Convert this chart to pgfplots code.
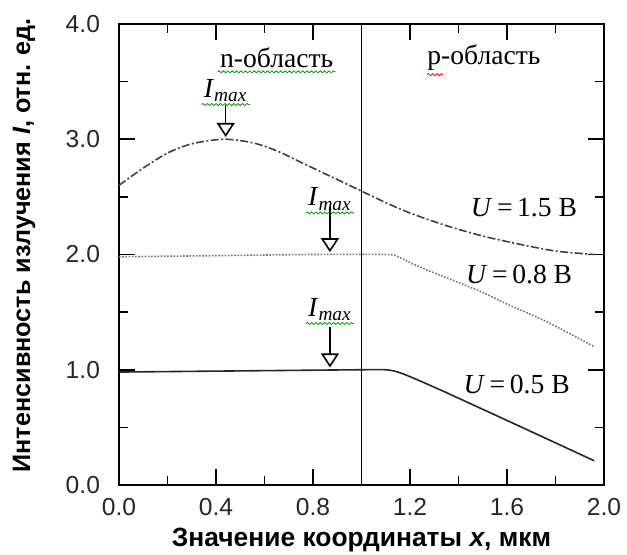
\documentclass[border=0pt]{standalone}
\usepackage{pgfplots}
\pgfplotsset{compat=1.18}
\usepackage{fontspec}
\setmainfont{Liberation Serif}
\setsansfont{Liberation Sans}
\usetikzlibrary{arrows.meta,decorations.pathmorphing}
\tikzset{wavy/.style={decorate, decoration={snake, amplitude=0.5pt, segment length=2.2pt}},
  imarrow/.style={black, line width=0.8pt, -{Triangle[open, width=9pt, length=7pt, line width=0.8pt]}},
  ann/.style={font=\fontsize{13.8}{15}\selectfont, inner sep=1pt}}
\begin{document}
\begin{tikzpicture}
\begin{axis}[
  scale only axis,
  width=242.5pt, height=230.5pt,
  xmin=0, xmax=2, ymin=0, ymax=4,
  xtick={0,0.4,0.8,1.2,1.6,2.0},
  ytick={0,1,2,3,4},
  minor x tick num=1, minor y tick num=1,
  tick align=inside,
  major tick length=8pt, minor tick length=4.5pt,
  axis line style={line width=0.8pt},
  every tick/.style={black, line width=0.8pt},
  /pgf/number format/.cd, fixed, fixed zerofill, precision=1, assume math mode=true,
  /pgfplots/.cd,
  ticklabel style={font=\sffamily\fontsize{12.3}{14}\selectfont, text=black!85},
  yticklabel style={xshift=-6pt},
  xticklabel style={yshift=-3pt},
  xlabel={\textbf{Значение координаты \textit{x}, мкм}},
  ylabel={\textbf{Интенсивность излучения \textit{I}, отн. ед.}},
  xlabel style={font=\sffamily\fontsize{13.2}{15}\selectfont, at={([yshift=-27.5pt]axis description cs:0.5,0)}, anchor=center},
  ylabel style={font=\sffamily\fontsize{12.6}{15}\selectfont, at={([xshift=-47.5pt]axis description cs:0,0.52)}, anchor=center},
  clip=false,
]
\addplot[black!75, line width=0.8pt, dash pattern=on 4pt off 1.2pt on 1pt off 1.2pt, smooth] coordinates {
(0,2.60) (0.1,2.75) (0.2,2.88) (0.3,2.96) (0.43,3.00) (0.55,2.97) (0.65,2.90) (0.75,2.80) (0.87,2.68) (1.0,2.55) (1.1,2.45) (1.2,2.36) (1.35,2.25) (1.5,2.16) (1.65,2.09) (1.8,2.03) (1.96,2.00)};
\addplot[black!55, line width=0.8pt, dash pattern=on 0.8pt off 0.8pt, smooth] coordinates {
(0,1.98) (0.4,1.99) (0.8,2.00) (1.1,2.00) (1.15,1.98) (1.21,1.92) (1.3,1.84) (1.49,1.68) (1.6,1.57) (1.76,1.42) (1.96,1.20)};
\addplot[black!85, line width=0.8pt, smooth] coordinates {
(0,0.98) (0.5,0.99) (1.0,1.00) (1.1,1.00) (1.15,0.98) (1.2,0.94) (1.32,0.83) (1.6,0.56) (1.96,0.21)};
\draw[black, line width=0.8pt] (axis cs:1,0) -- (axis cs:1,4);
% annotations
\node[ann] (n) at (axis cs:0.65,3.71) {n-область};
\node[ann] (p) at (axis cs:1.505,3.71) {p-область};
\draw[green!60!black, wavy] ([yshift=-1pt]n.south west) -- ([yshift=-1pt]n.south east);
\draw[red, wavy] ([xshift=1pt,yshift=-1pt]p.south west) -- ++(8pt,0);
\node[ann] (i1) at (axis cs:0.44,3.42) {\textit{I}\textsubscript{\textit{max}}};
\draw[green!60!black, wavy] ([yshift=0pt]i1.south west) -- ([yshift=0pt]i1.south east);
\draw[imarrow] (axis cs:0.44,3.30) -- (axis cs:0.44,3.02);
\node[ann] (i2) at (axis cs:0.87,2.48) {\textit{I}\textsubscript{\textit{max}}};
\draw[green!60!black, wavy] ([yshift=0pt]i2.south west) -- ([yshift=0pt]i2.south east);
\draw[imarrow] (axis cs:0.87,2.41) -- (axis cs:0.87,2.02);
\node[ann] (i3) at (axis cs:0.87,1.52) {\textit{I}\textsubscript{\textit{max}}};
\draw[green!60!black, wavy] ([yshift=0pt]i3.south west) -- ([yshift=0pt]i3.south east);
\draw[imarrow] (axis cs:0.87,1.37) -- (axis cs:0.87,1.02);
\node[ann] at (axis cs:1.67,2.41) {\textit{U}\,=\,1.5 В};
\node[ann] at (axis cs:1.65,1.83) {\textit{U}\,=\,0.8 В};
\node[ann] at (axis cs:1.64,0.87) {\textit{U}\,=\,0.5 В};
\end{axis}
\pgfresetboundingbox
\path[use as bounding box] ([xshift=-59.5pt, yshift=-35pt]current axis.south west) rectangle ([xshift=11.5pt,yshift=12pt]current axis.north east);
\end{tikzpicture}
\end{document}
